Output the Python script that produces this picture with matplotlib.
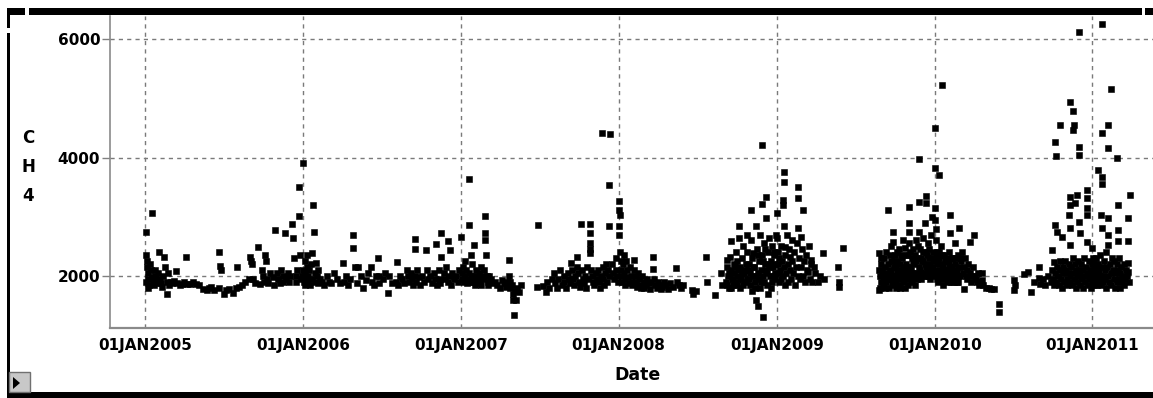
import matplotlib
matplotlib.use("Agg")
import matplotlib.pyplot as plt
import matplotlib.dates as mdates
from matplotlib.patches import Rectangle, Polygon
from matplotlib.ticker import FuncFormatter
import numpy as np

# CH4 readings, (day of year, value)
obs_2005 = [(2, 2740), (16, 3060), (3, 2350), (5, 2250), (4, 2150), (6, 2050), (8, 1950), (3, 1900),
            (10, 1850), (12, 2200), (14, 2100), (15, 1980), (18, 1900), (20, 1850), (22, 2000), (24, 2100),
            (26, 1950), (7, 1800), (28, 1880), (30, 2050), (33, 2400), (35, 1950), (38, 1880), (40, 1820),
            (42, 2000), (45, 2320), (47, 2150), (50, 1900), (51, 1700), (53, 2050), (56, 1850), (60, 1900),
            (63, 1880), (68, 1920), (72, 2080), (75, 1880), (80, 1850), (85, 1870), (90, 1900), (95, 2320),
            (98, 1870), (105, 1860), (112, 1900), (118, 1870), (125, 1850), (135, 1780), (143, 1760),
            (148, 1790), (152, 1820), (160, 1760), (170, 1790), (172, 2400), (174, 2170), (176, 2100),
            (182, 1700), (188, 1760), (195, 1780), (204, 1710), (210, 1800), (213, 2150), (218, 1820),
            (225, 1850), (232, 1900), (240, 1950), (243, 2320), (245, 2250), (247, 2200), (250, 1950),
            (255, 1880), (261, 2490), (265, 1860), (270, 2100), (272, 2000), (275, 1900), (278, 2350),
            (280, 2250), (282, 1950), (285, 1880), (290, 2050), (295, 1980), (298, 1850), (301, 2780),
            (305, 2050), (308, 1950), (312, 1880), (315, 2100), (318, 2000), (320, 1900), (324, 2730),
            (326, 1950), (330, 2050), (333, 1900), (336, 2000), (340, 2880), (342, 2640), (345, 2300),
            (348, 2000), (350, 1900), (352, 2100), (355, 3010), (356, 3500), (358, 2350), (360, 1950),
            (362, 2000)]

obs_2006 = [(0, 3900), (1, 2100), (2, 2000), (3, 1900), (4, 2250), (5, 1850), (6, 2050), (8, 1950),
            (9, 2150), (10, 2350), (12, 1900), (13, 2000), (15, 2100), (16, 1850), (18, 2200), (20, 1950),
            (23, 3200), (25, 2740), (22, 2390), (27, 2050), (28, 1900), (30, 2220), (32, 2000), (34, 1880),
            (36, 2100), (40, 1950), (45, 1900), (50, 1850), (55, 2000), (60, 1900), (66, 1880), (72, 2050),
            (80, 1950), (85, 1880), (92, 2220), (95, 1900), (100, 2000), (105, 1850), (110, 1950),
            (116, 2690), (117, 2470), (120, 2150), (127, 2150), (125, 1880), (135, 2000), (140, 1800),
            (145, 1930), (150, 2050), (158, 2150), (160, 1900), (165, 1850), (170, 2000), (174, 2300),
            (175, 2000), (176, 1880), (185, 1950), (190, 2050), (197, 1710), (200, 2000), (205, 1880),
            (218, 2240), (215, 1900), (220, 1850), (225, 2000), (230, 1950), (235, 1880), (240, 2100),
            (242, 2000), (245, 1900), (250, 2050), (252, 1950), (255, 1850), (259, 2620), (259, 2460),
            (260, 2000), (262, 1900), (265, 2100), (268, 1980), (270, 1850), (275, 2000), (280, 1900),
            (285, 2440), (287, 2100), (290, 1950), (295, 2000), (298, 1880), (308, 2540), (303, 2050),
            (305, 1950), (310, 1850), (319, 2730), (319, 2320), (314, 2100), (316, 1950), (318, 1880),
            (336, 2590), (340, 2440), (326, 2050), (328, 1950), (330, 2150), (335, 1900), (338, 2000),
            (342, 1850), (345, 2050), (350, 1950), (355, 2000), (358, 1900), (362, 2100)]

obs_2007 = [(0, 2660), (2, 2050), (4, 1950), (5, 2150), (7, 1900), (9, 2000), (11, 2250), (13, 2100),
            (14, 1880), (16, 1950), (19, 3640), (19, 2860), (20, 2050), (22, 1900), (24, 2350), (25, 2000),
            (27, 2200), (28, 1900), (30, 2520), (32, 2000), (34, 1850), (36, 2100), (38, 1950), (40, 1880),
            (42, 2050), (44, 1900), (46, 2150), (48, 1850), (50, 2000), (52, 1950), (54, 2100), (56, 3010),
            (56, 2730), (57, 2610), (58, 2350), (60, 2000), (62, 1900), (64, 1850), (66, 2000), (70, 1950),
            (75, 1880), (80, 1900), (85, 1850), (90, 1800), (95, 1930), (100, 1880), (105, 1820),
            (108, 1900), (111, 2270), (112, 2000), (113, 1900), (115, 1800), (118, 1850), (120, 1700),
            (122, 1600), (123, 1340), (125, 1750), (127, 1600), (130, 1800), (135, 1730), (140, 1850),
            (176, 1820), (179, 2860), (190, 1830), (197, 1730), (200, 1900), (205, 1800), (210, 1950),
            (215, 2050), (218, 1880), (222, 1800), (226, 1950), (230, 2100), (234, 1850), (238, 2000),
            (240, 1900), (244, 1800), (248, 2050), (250, 1950), (253, 1880), (256, 2220), (258, 2100),
            (260, 1950), (262, 1850), (265, 2000), (269, 2320), (270, 2150), (272, 2050), (274, 1900),
            (276, 1820), (279, 2880), (280, 2100), (283, 1950), (286, 1880), (288, 2000), (290, 1800),
            (292, 2150), (295, 1950), (298, 2730), (299, 2880), (299, 2560), (299, 2450), (300, 2380),
            (302, 2100), (304, 2000), (306, 1900), (308, 1850), (312, 2050), (315, 1950), (318, 2100),
            (320, 1900), (323, 1800), (325, 2000), (326, 4410), (328, 2150), (330, 1950), (332, 1850),
            (334, 2050), (336, 2200), (338, 1900), (340, 2100), (342, 2000), (345, 4400), (343, 3540),
            (343, 2840), (350, 2200), (352, 2050), (355, 1950), (358, 2100), (360, 2300), (362, 2000),
            (364, 1900)]

obs_2008 = [(0, 3270), (1, 3110), (3, 3030), (0, 2840), (2, 2700), (4, 2400), (5, 2250), (6, 2100),
            (8, 2000), (9, 1900), (10, 2200), (12, 2350), (13, 2050), (15, 1950), (16, 1850), (18, 2250),
            (20, 2100), (22, 1980), (24, 1880), (26, 2150), (28, 2000), (30, 1900), (32, 1850), (35, 2270),
            (36, 2100), (38, 2000), (40, 1900), (42, 1820), (45, 2050), (48, 1950), (50, 1850), (52, 1800),
            (55, 2000), (58, 1900), (60, 1800), (63, 1850), (66, 1950), (70, 1880), (72, 1780), (75, 1900),
            (79, 2320), (80, 2120), (82, 1950), (85, 1850), (88, 1800), (92, 1900), (95, 1850), (98, 1780),
            (100, 1820), (105, 1900), (110, 1850), (115, 1780), (120, 1880), (125, 1820), (134, 2135),
            (136, 1900), (140, 1850), (145, 1800), (150, 1850), (171, 1760), (173, 1700), (180, 1750),
            (203, 2320), (204, 1900), (224, 1680), (236, 2050), (240, 1850), (248, 1900), (250, 2270),
            (252, 2150), (253, 2000), (255, 1800), (257, 2320), (259, 2590), (260, 2100), (262, 1950),
            (264, 1850), (266, 2200), (268, 2050), (270, 1900), (272, 2400), (274, 2250), (276, 2000),
            (278, 2840), (279, 2650), (280, 1800), (282, 2150), (284, 1950), (286, 2300), (288, 2500),
            (290, 2050), (292, 1900), (294, 2200), (296, 2700), (298, 2400), (300, 2100), (302, 1950),
            (304, 1850), (306, 3110), (307, 2600), (308, 2300), (310, 2000), (312, 2390), (314, 2150),
            (316, 1900), (317, 1600), (318, 2840), (320, 2450), (322, 1500), (322, 2050), (324, 1950),
            (326, 2250), (328, 2700), (330, 1900), (331, 4210), (331, 3210), (332, 2350), (333, 1310),
            (334, 2000), (336, 2550), (338, 2200), (340, 3330), (340, 2980), (342, 2100), (344, 1850),
            (346, 2400), (348, 2650), (350, 2000), (352, 2250), (354, 1900), (356, 2500), (358, 2150),
            (360, 2350), (362, 1950), (364, 2700),
            (251, 1850), (256, 2050), (261, 1800), (265, 1950), (269, 2150), (273, 1850), (277, 2100),
            (281, 1950), (285, 2050), (289, 1850), (293, 2100), (297, 1950), (301, 2200), (305, 2050),
            (309, 1750), (313, 2150), (315, 1800), (319, 2000), (323, 2350), (327, 1800), (329, 2100),
            (335, 2250), (337, 1900), (339, 2450), (343, 2050), (345, 1700), (347, 2200), (351, 2150),
            (353, 1800), (357, 2000), (359, 2400), (361, 2200), (363, 2050)]

obs_2009 = [(0, 3060), (1, 2640), (2, 2400), (3, 2200), (4, 2050), (5, 1900), (6, 2300), (8, 2100),
            (9, 1950), (10, 2500), (12, 2250), (14, 3280), (14, 3200), (15, 2000), (16, 3750), (16, 3590),
            (16, 2840), (17, 2150), (18, 2490), (19, 1850), (20, 2350), (22, 2050), (23, 2700), (25, 2200),
            (26, 1900), (28, 2450), (30, 2320), (31, 2100), (33, 1950), (35, 2600), (36, 2250), (38, 2050),
            (40, 2400), (42, 1850), (44, 2150), (46, 2550), (48, 2000), (49, 3500), (49, 3320), (50, 2810),
            (51, 2300), (53, 1950), (55, 2660), (56, 2150), (58, 2450), (60, 3110), (61, 2000), (63, 2250),
            (65, 1900), (67, 2350), (70, 2100), (72, 2070), (74, 2510), (76, 1950), (78, 2200), (80, 2270),
            (82, 1900), (85, 2150), (88, 2050), (95, 1900), (100, 2000), (108, 2390), (110, 1950),
            (141, 2150), (143, 1900), (145, 1815), (153, 2470), (236, 2390), (236, 1760), (238, 2000),
            (240, 2200), (241, 1900), (243, 2100), (245, 1850), (247, 2300), (249, 2000), (251, 2150),
            (253, 1900), (255, 2050), (257, 3110), (258, 2200), (260, 1950), (262, 2350), (264, 2050),
            (266, 1850), (268, 2740), (268, 2570), (270, 2250), (272, 2000), (274, 1900), (276, 2150),
            (278, 2400), (280, 2050), (282, 1850), (284, 2200), (286, 1950), (288, 2100), (290, 2300),
            (292, 2000), (294, 1900), (296, 2470), (298, 2200), (300, 2050), (302, 1950), (304, 2350),
            (305, 3170), (305, 2900), (305, 2740), (306, 2550), (308, 2150), (310, 1900), (312, 2300),
            (314, 2050), (316, 2450), (318, 2200), (320, 1850), (322, 2600), (324, 2000), (326, 2300),
            (328, 2150), (329, 3975), (329, 3250), (330, 2750), (332, 2450), (334, 1950), (336, 2250),
            (338, 2650), (340, 2050), (342, 2900), (344, 2400), (345, 3350), (345, 3230), (346, 2150),
            (348, 2000), (350, 2550), (352, 2300), (354, 1950), (356, 2700), (358, 2150), (360, 3000),
            (362, 2400), (364, 2050),
            (237, 2100), (239, 1800), (242, 2300), (246, 2000), (250, 1800), (252, 2400), (256, 1950),
            (259, 1800), (261, 2100), (263, 2500), (265, 2250), (267, 2000), (269, 1900), (271, 2150),
            (273, 2350), (275, 1800), (277, 2050), (279, 2250), (281, 1950), (283, 2450), (285, 1800),
            (287, 2350), (289, 2000), (291, 2150), (293, 2600), (295, 2050), (297, 1800), (299, 2350),
            (301, 2150), (303, 1850), (307, 2000), (309, 2400), (311, 2100), (313, 1950), (315, 2250),
            (317, 2000), (319, 2350), (321, 2050), (323, 2250), (325, 1950), (327, 2500), (331, 2100),
            (333, 2300), (335, 2050), (337, 2400), (339, 2250), (341, 2000), (343, 2200), (347, 2350),
            (349, 2100), (351, 2000), (353, 2450), (355, 2200), (357, 2050), (359, 2300), (361, 2000),
            (363, 2250)]

obs_2010 = [(0, 4500), (0, 3820), (9, 3700), (16, 5220), (0, 3150), (2, 2950), (4, 2800), (3, 2600),
            (5, 2400), (6, 2200), (7, 2050), (8, 1900), (10, 2300), (12, 2100), (13, 1950), (14, 2500),
            (16, 2200), (18, 2000), (20, 1850), (21, 2350), (23, 2100), (25, 1950), (27, 2250), (29, 2050),
            (31, 1900), (33, 2400), (35, 3030), (35, 2730), (36, 2150), (38, 2000), (40, 2300), (42, 1950),
            (44, 2100), (46, 2560), (48, 2200), (50, 2000), (52, 1900), (54, 2350), (56, 2810), (57, 2150),
            (59, 2000), (61, 2250), (63, 2400), (65, 2050), (67, 2150), (69, 1780), (70, 2300), (72, 2000),
            (74, 1950), (76, 2100), (78, 2200), (81, 2570), (82, 2050), (84, 1900), (86, 2000), (88, 2150),
            (90, 2690), (92, 2000), (95, 1950), (98, 1900), (100, 2050), (103, 1850), (106, 1900),
            (109, 2050), (110, 1930), (113, 1850), (118, 1800), (125, 1800), (130, 1780), (137, 1780),
            (148, 1530), (148, 1400), (183, 1930), (183, 1760), (185, 1850), (206, 2030), (215, 2070),
            (222, 1730), (230, 1900), (241, 2150), (242, 1970), (243, 1860), (250, 1950), (255, 1850),
            (262, 2000), (268, 1900), (271, 2440), (272, 2100), (274, 1950), (276, 2240), (277, 1850),
            (278, 4260), (278, 2860), (279, 2050), (280, 4030), (281, 1900), (283, 2740), (284, 2150),
            (285, 2000), (287, 1850), (289, 4550), (289, 2250), (291, 2100), (292, 1950), (294, 2660),
            (295, 1800), (296, 2150), (298, 2050), (300, 1900), (302, 2250), (304, 2100), (305, 1850),
            (306, 1950), (308, 2050), (310, 3030), (310, 2200), (312, 1900), (313, 4940), (313, 3330),
            (313, 3200), (313, 2810), (313, 2520), (314, 2000), (316, 2150), (318, 1850), (319, 4790),
            (319, 4460), (320, 2300), (321, 2050), (322, 4550), (322, 1950), (324, 3230), (324, 2200),
            (326, 1800), (327, 2100), (329, 3370), (329, 2000), (330, 1900), (331, 2250), (333, 6120),
            (333, 4180), (333, 4040), (333, 2910), (334, 2100), (336, 2730), (336, 1850), (337, 2000),
            (339, 2200), (340, 1950), (342, 2100), (343, 1800), (345, 2300), (346, 2000), (348, 1900),
            (350, 2150), (352, 3450), (352, 3320), (352, 3150), (352, 3030), (352, 2570), (353, 2050),
            (355, 1850), (356, 2250), (358, 1950), (359, 2100), (361, 2000), (362, 1800), (364, 2470),
            (364, 2200),
            (1, 2100), (3, 2350), (5, 1950), (7, 2250), (9, 2000), (11, 2400), (15, 2050), (17, 2350),
            (19, 2150), (22, 2000), (24, 2250), (26, 2100), (28, 1950), (30, 2300), (32, 2050), (34, 2200),
            (37, 1900), (39, 2150), (41, 2050), (43, 2300), (45, 1900), (47, 2050), (49, 2300), (51, 2100),
            (53, 2000), (55, 1900), (58, 2300)]

obs_2011 = [(0, 1900), (1, 2100), (2, 2300), (3, 2000), (4, 1850), (5, 2200), (6, 2050), (8, 1950),
            (9, 2300), (10, 2100), (11, 1850), (12, 3790), (12, 2000), (13, 2200), (15, 1950), (16, 2100),
            (18, 2350), (19, 3030), (19, 2000), (20, 1850), (21, 6250), (22, 2150), (23, 4410), (23, 3670),
            (23, 3550), (23, 2810), (24, 2000), (25, 1900), (26, 2250), (28, 2100), (30, 1950), (31, 2400),
            (32, 1800), (34, 2150), (35, 2690), (36, 2000), (37, 4550), (37, 4160), (37, 2980), (37, 2520),
            (38, 1900), (40, 2200), (42, 5160), (42, 2050), (44, 1850), (45, 2300), (47, 2100), (49, 1950),
            (50, 2250), (52, 1800), (54, 2050), (56, 3990), (56, 2200), (57, 1900), (58, 2590), (59, 2100),
            (60, 3200), (60, 2780), (61, 1950), (62, 2300), (63, 1800), (64, 2050), (66, 2150), (68, 1900),
            (70, 2000), (72, 2200), (74, 1850), (75, 1950), (77, 2100), (80, 2000), (83, 2980), (83, 2590),
            (83, 2220), (83, 2070), (84, 1900), (86, 3370)]

years = [2005, 2006, 2007, 2008, 2009, 2010, 2011]
yearly_obs = [obs_2005, obs_2006, obs_2007, obs_2008, obs_2009, obs_2010, obs_2011]
y_ticks = [2000, 4000, 6000]

dates = []
ch4 = []
for yr, obs in zip(years, yearly_obs):
    start = np.datetime64(f"{yr}-01-01")
    for d, v in obs:
        dates.append(start + np.timedelta64(d, "D"))
        ch4.append(v)
dates = np.array(dates)
ch4 = np.array(ch4)

W, H = 1153, 398
fig = plt.figure(figsize=(W / 100, H / 100), dpi=100)

# window chrome drawn in pixel coords on a background axes
bg = fig.add_axes([0, 0, 1, 1], zorder=0)
bg.set_xlim(0, W)
bg.set_ylim(H, 0)
bg.axis("off")
blk = dict(color="black", lw=0)
bg.add_patch(Rectangle((7, 8), 18, 7, **blk))
bg.add_patch(Rectangle((29, 8), 1113, 7, **blk))
bg.add_patch(Rectangle((1145, 8), 8, 7, **blk))
bg.add_patch(Rectangle((7, 8), 3, 20, **blk))
bg.add_patch(Rectangle((7, 33), 3, 362, **blk))
bg.add_patch(Rectangle((7, 392), 1146, 6, **blk))
bg.add_patch(Rectangle((9, 372), 21, 20, facecolor="#c8c8c8", edgecolor="#707070", lw=1))
bg.add_patch(Polygon([(13, 377), (13, 389), (20, 383)], closed=True, color="black", lw=0))

ax = fig.add_axes([110 / W, (H - 328) / H, (W - 110) / W, (328 - 16) / H], zorder=1)
ax.patch.set_alpha(0)
ax.plot(dates, ch4, linestyle="none", marker="s", ms=3.7, mfc="black", mec="black", mew=0.4,
        clip_on=False, zorder=3)

ax.set_xlim(np.datetime64("2004-10-12"), np.datetime64("2011-05-21"))
ax.set_ylim(1122, 6390)
ax.xaxis.set_major_locator(mdates.YearLocator())
ax.xaxis.set_major_formatter(FuncFormatter(lambda x, p: mdates.num2date(x).strftime("%d%b%Y").upper()))
ax.set_yticks(y_ticks)

for lab in ax.get_xticklabels() + ax.get_yticklabels():
    lab.set_fontfamily("DejaVu Sans")
    lab.set_fontweight("bold")
    lab.set_fontsize(11)
ax.tick_params(axis="x", length=0, pad=7, colors="black")
ax.tick_params(axis="y", length=6, width=1, color="#808080", pad=1)

ax.grid(True, linestyle=(0, (3, 3)), color="#7a7a7a", lw=1)
ax.set_axisbelow(True)
for s in ["top", "right"]:
    ax.spines[s].set_visible(False)
ax.spines["left"].set_color("#8a8a8a")
ax.spines["bottom"].set_color("#8a8a8a")
ax.spines["left"].set_linewidth(1.2)
ax.spines["bottom"].set_linewidth(1.6)

fig.text(637 / W, 1 - 375 / H, "Date", ha="center", va="center", fontsize=12.5,
         fontweight="bold", family="DejaVu Sans")
for letter, yp in zip("CH4", [138, 167, 196]):
    fig.text(28 / W, 1 - yp / H, letter, ha="center", va="center", fontsize=12,
             fontweight="bold", family="DejaVu Sans")

fig.savefig("out.png", dpi=100)
